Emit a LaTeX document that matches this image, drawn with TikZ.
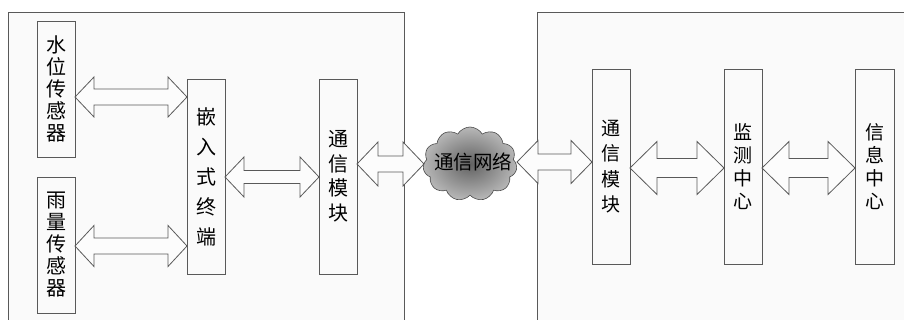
\documentclass[tikz,border=0pt]{standalone}
\usepackage{fontspec}
\newfontfamily\cjk{Noto Sans CJK SC}
\usetikzlibrary{calc,shapes.symbols}
\newcommand\dblarrow[6]{% #1 left anchor, #2 right anchor, #3 y(px), #4 head length, #5 head half height, #6 shaft half height
  \draw[blockarrow] let \p1=(#1), \p2=(#2) in
    (\x1,-#3pt) -- (\x1+#4pt,-#3pt+#5pt) -- (\x1+#4pt,-#3pt+#6pt) -- (\x2-#4pt,-#3pt+#6pt)
    -- (\x2-#4pt,-#3pt+#5pt) -- (\x2,-#3pt) -- (\x2-#4pt,-#3pt-#5pt) -- (\x2-#4pt,-#3pt-#6pt)
    -- (\x1+#4pt,-#3pt-#6pt) -- (\x1+#4pt,-#3pt-#5pt) -- cycle;}
\tikzset{
  frame/.style={draw=black!65, line width=0.8pt, fill=black!2},
  box/.style={draw=black!65, line width=0.8pt, fill=black!2, minimum width=38pt, inner sep=0pt, outer sep=0pt, align=center},
  lefttext/.style={font=\cjk\fontsize{20}{22}\selectfont},
  righttext/.style={font=\cjk\fontsize{19}{23}\selectfont},
  blockarrow/.style={draw=black!65, line width=0.8pt, fill=black!1, line join=miter},
}
\begin{document}
\begin{tikzpicture}[x=1pt,y=1pt]
\useasboundingbox (0,0) rectangle (904,-320);
\fill[white] (0,0) rectangle (904,-320);
% frames
\fill[black!2] (8,-12) rectangle (404,-320);
\draw[frame, fill=none] (8,-320) -- (8,-12) -- (404,-12) -- (404,-320);
\fill[black!2] (537,-12) rectangle (904,-320);
\draw[frame, fill=none] (537,-320) -- (537,-12) -- (904,-12);
% boxes
\node[box, lefttext, minimum height=136pt] (s1) at (56,-89) {水\\位\\传\\感\\器};
\node[box, lefttext, minimum height=136pt] (s2) at (56,-245) {雨\\量\\传\\感\\器};
\node[box, font=\cjk\fontsize{20}{30}\selectfont, minimum height=195pt] (emb) at (206,-176.5) {嵌\\入\\式\\终\\端};
\node[box, font=\cjk\fontsize{20}{24.5}\selectfont, minimum height=195pt] (comL) at (338,-176.5) {通\\信\\模\\块};
\node[box, font=\cjk\fontsize{19}{25.5}\selectfont, minimum height=195pt] (comR) at (611,-166.5) {通\\信\\模\\块};
\node[box, righttext, minimum height=195pt] (mon) at (743,-166.5) {监\\测\\中\\心};
\node[box, righttext, minimum height=195pt, minimum width=39pt] (info) at (874.5,-166.5) {信\\息\\中\\心};
% arrows
\dblarrow{s1.east}{emb.west}{97}{19}{20}{8}
\dblarrow{s2.east}{emb.west}{246}{19}{20.5}{8}
\dblarrow{emb.east}{comL.west}{177}{19}{20}{6.5}
\coordinate (cl) at (424,-164);
\coordinate (cr) at (517,-163);
\dblarrow{comL.east}{cl}{164}{21}{22}{8}
\dblarrow{cr}{comR.west}{162}{21}{21.5}{8}
\dblarrow{comR.east}{mon.west}{168}{27}{26.5}{9.5}
\dblarrow{mon.east}{info.west}{168}{27}{26.5}{9.5}
% cloud
\node[cloud, cloud puffs=11, cloud puff arc=120, aspect=1.25, draw=black!70, line width=0.6pt,
      inner color=black!62, outer color=black!28, minimum width=94pt, minimum height=74pt,
      inner sep=0pt] (net) at (470,-164) {};
\node[font=\cjk\fontsize{19.5}{22}\selectfont, inner sep=0pt] (netlabel) at (473,-162) {通信网络};
\end{tikzpicture}
\end{document}
